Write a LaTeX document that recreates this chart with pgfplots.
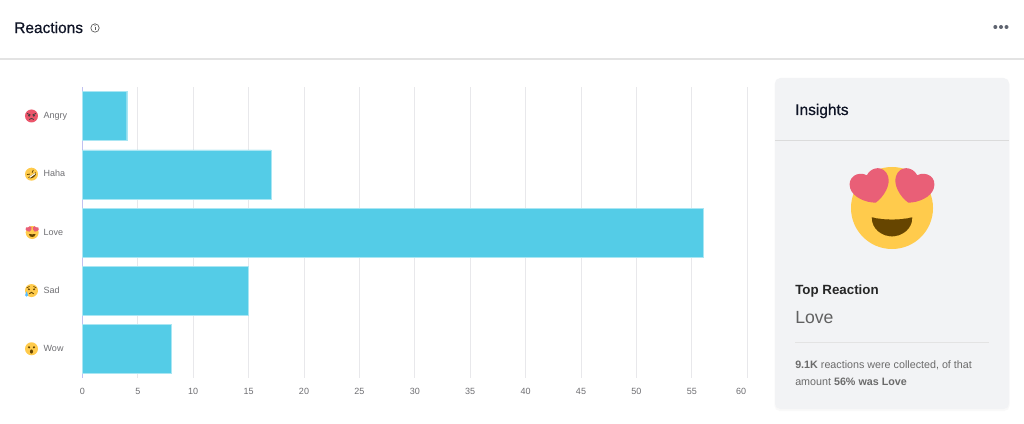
\documentclass[border=0pt]{standalone}
\usepackage{pgfplots}
\pgfplotsset{compat=1.18}
\usepackage{fontspec}
\setmainfont{Liberation Sans}
\newfontfamily\medfont[FakeBold=0.6]{Liberation Sans}
\definecolor{barc}{HTML}{54CCE7}
\definecolor{gridc}{HTML}{E8E8EB}
\definecolor{panel}{HTML}{F2F3F5}
\definecolor{ticktxt}{HTML}{6E6E72}
\definecolor{ink}{HTML}{0F1426}
\definecolor{yel}{HTML}{FFCB4C}
\definecolor{heart}{HTML}{E95F77}
\definecolor{brown}{HTML}{664500}
\definecolor{dots}{HTML}{5F6470}
\newcommand{\heartpath}{(0,-0.98) .. controls (-0.55,-0.8) and (-1.1,-0.3) .. (-1.1,0.2) .. controls (-1.1,0.85) and (-0.4,1.02) .. (0,0.62) .. controls (0.4,1.02) and (1.1,0.85) .. (1.1,0.2) .. controls (1.1,-0.3) and (0.55,-0.8) .. (0,-0.98) -- cycle}
\newcommand{\emojilove}{%
  \fill[yel] (0,0) circle (1);
  \filldraw[brown,line join=round,line width=0.02] (-0.49,-0.23) .. controls (-0.2,-0.3) and (0.2,-0.3) .. (0.49,-0.23) .. controls (0.5,-0.5) and (0.25,-0.69) .. (0,-0.69) .. controls (-0.25,-0.69) and (-0.5,-0.5) .. (-0.49,-0.23) -- cycle;
  \begin{scope}[shift={(-0.53,0.54)},rotate=18,scale=0.44]\fill[heart] \heartpath;\end{scope}
  \begin{scope}[shift={(0.53,0.54)},rotate=-18,scale=0.44]\fill[heart] \heartpath;\end{scope}}
\newcommand{\emojiangry}{%
  \fill[heart!90!red] (0,0) circle (1);
  \fill[black!75] (-0.38,0.05) circle (0.17) (0.38,0.05) circle (0.17);
  \draw[black!75,line width=0.6pt] (-0.7,0.4) -- (-0.15,0.15) (0.7,0.4) -- (0.15,0.15);
  \draw[black!75,line width=0.6pt] (-0.35,-0.55) .. controls (-0.15,-0.3) and (0.15,-0.3) .. (0.35,-0.55);}
\newcommand{\emojihaha}{%
  \fill[yel] (0,0) circle (1);
  \begin{scope}[rotate=35]
  \fill[brown] (-0.72,-0.1) .. controls (-0.3,-0.2) and (0.3,-0.2) .. (0.72,-0.1) .. controls (0.65,-0.75) and (-0.65,-0.75) .. (-0.72,-0.1) -- cycle;
  \fill[white] (-0.55,-0.17) -- (0.55,-0.17) -- (0.5,-0.33) -- (-0.5,-0.33) -- cycle;
  \draw[brown,line width=0.6pt] (-0.6,0.35) -- (-0.2,0.15) (0.6,0.35) -- (0.2,0.15);
  \end{scope}}
\newcommand{\emojisad}{%
  \fill[yel] (0,0) circle (1);
  \fill[brown] (-0.4,0.2) circle (0.17) (0.4,0.2) circle (0.17);
  \draw[brown,line width=0.5pt] (-0.75,0.4) -- (-0.3,0.65) (0.75,0.4) -- (0.3,0.65);
  \draw[brown,line width=0.7pt] (-0.35,-0.5) .. controls (-0.15,-0.2) and (0.15,-0.2) .. (0.35,-0.5);
  \fill[blue!40!cyan!65] (-0.75,-0.1) .. controls (-0.75,-0.3) and (-0.98,-0.5) .. (-0.98,-0.72) arc (180:360:0.23) .. controls (-0.52,-0.5) and (-0.75,-0.3) .. (-0.75,-0.1) -- cycle;}
\newcommand{\emojiwow}{%
  \fill[yel] (0,0) circle (1);
  \fill[brown] (-0.38,0.22) circle (0.18) (0.38,0.22) circle (0.18);
  \fill[brown] (0,-0.42) ellipse (0.24 and 0.32);}
\newsavebox{\bangry}\newsavebox{\bhaha}\newsavebox{\blove}\newsavebox{\bsad}\newsavebox{\bwow}
\newcommand{\lab}[2]{\makebox[14.6pt][l]{\hspace*{0.6pt}\raisebox{-2.8pt}{\usebox{#1}}}#2}
\begin{document}
\sbox{\bangry}{\tikz[x=4.875pt,y=4.875pt]{\emojiangry}}%
\sbox{\bhaha}{\tikz[x=4.875pt,y=4.875pt]{\emojihaha}}%
\sbox{\blove}{\tikz[x=4.875pt,y=4.875pt]{\emojilove}}%
\sbox{\bsad}{\tikz[x=4.875pt,y=4.875pt]{\emojisad}}%
\sbox{\bwow}{\tikz[x=4.875pt,y=4.875pt]{\emojiwow}}%
\begin{tikzpicture}
\path[use as bounding box] (0,0) rectangle (768pt,-318pt);
\fill[white] (0,0) rectangle (768pt,-318pt);
\begin{scope}[x=0.75pt,y=-0.75pt]
  % header
  \draw[black!11,line width=1.3pt] (0,59) -- (1024,59);
  \node[anchor=west,inner sep=0pt,text=ink,font=\fontsize{11.6pt}{14pt}\medfont] at (14,27.5) {Reactions};
  \draw[black!65,line width=0.5pt] (95,28) circle (4.2);
  \fill[black!65] (95,25.8) circle (0.55);
  \draw[black!65,line width=0.6pt] (95,27.2) -- (95,30.5);
  \fill[dots] (995.3,27) circle (2) (1001,27) circle (2) (1006.5,27) circle (2);
  % panel
  \fill[black!2.5,rounded corners=4pt] (774.5,79) rectangle (1009.5,411);
  \fill[panel,rounded corners=4pt] (775,78) rectangle (1009,409);
  \draw[black!14,line width=0.75pt] (775,141) -- (1009,141);
  \node[anchor=west,inner sep=0pt,text=ink,font=\fontsize{11.6pt}{14pt}\medfont] at (795,111) {Insights};
  \node[anchor=west,inner sep=0pt,text=black!85,font=\fontsize{10pt}{13pt}\bfseries] at (795,291.5) {Top Reaction};
  \node[anchor=west,inner sep=0pt,text=black!62,font=\fontsize{13.2pt}{16pt}\selectfont] at (795,317.5) {Love};
  \draw[black!11,line width=0.6pt] (795,342) -- (989,342);
  \node[anchor=west,inner sep=0pt,text=black!58,font=\fontsize{8.05pt}{10pt}\selectfont] at (795,365.5) {\textbf{9.1K} reactions were collected, of that};
  \node[anchor=west,inner sep=0pt,text=black!58,font=\fontsize{8.05pt}{10pt}\selectfont] at (795,382) {amount \textbf{56\% was Love}};
\end{scope}
\begin{scope}[shift={(669pt,-156pt)},x=30.75pt,y=30.75pt]
  \emojilove
\end{scope}
\begin{axis}[
  at={(61.8pt,-283.5pt)},anchor=south west,
  scale only axis,width=498.6pt,height=218.25pt,
  xmin=0,xmax=60,ymin=-0.5,ymax=4.5,y dir=reverse,
  xbar,bar width=36.75pt,bar shift=0pt,
  xtick={0,5,...,55},
  extra x ticks={60},
  extra x tick style={xticklabel style={xshift=-4.6pt},xmajorgrids},
  ytick={0,1,2,3,4},
  yticklabels={\lab{\bangry}{Angry},\lab{\bhaha}{Haha},\lab{\blove}{Love},\lab{\bsad}{Sad},\lab{\bwow}{Wow}},
  xmajorgrids,grid style={gridc,line width=0.75pt},
  major tick length=0pt,
  axis x line*=bottom,axis y line*=left,
  x axis line style={draw=none},
  y axis line style={draw=gridc!80!blue!90,line width=0.75pt,-},
  tick label style={font=\fontsize{6.75pt}{8pt}\selectfont,text=ticktxt},
  /pgf/number format/assume math mode=true,
  xticklabel style={yshift=-4.4pt},
  yticklabel style={anchor=east,inner sep=0pt,text width=42.75pt,align=left,xshift=-0.7pt,yshift=0.1pt},
  clip=false,
]
\addplot[fill=barc,draw=barc!50!white,line width=0.3pt] coordinates {(4,0) (17,1) (56,2) (15,3) (8,4)};
\end{axis}
\end{tikzpicture}
\end{document}
